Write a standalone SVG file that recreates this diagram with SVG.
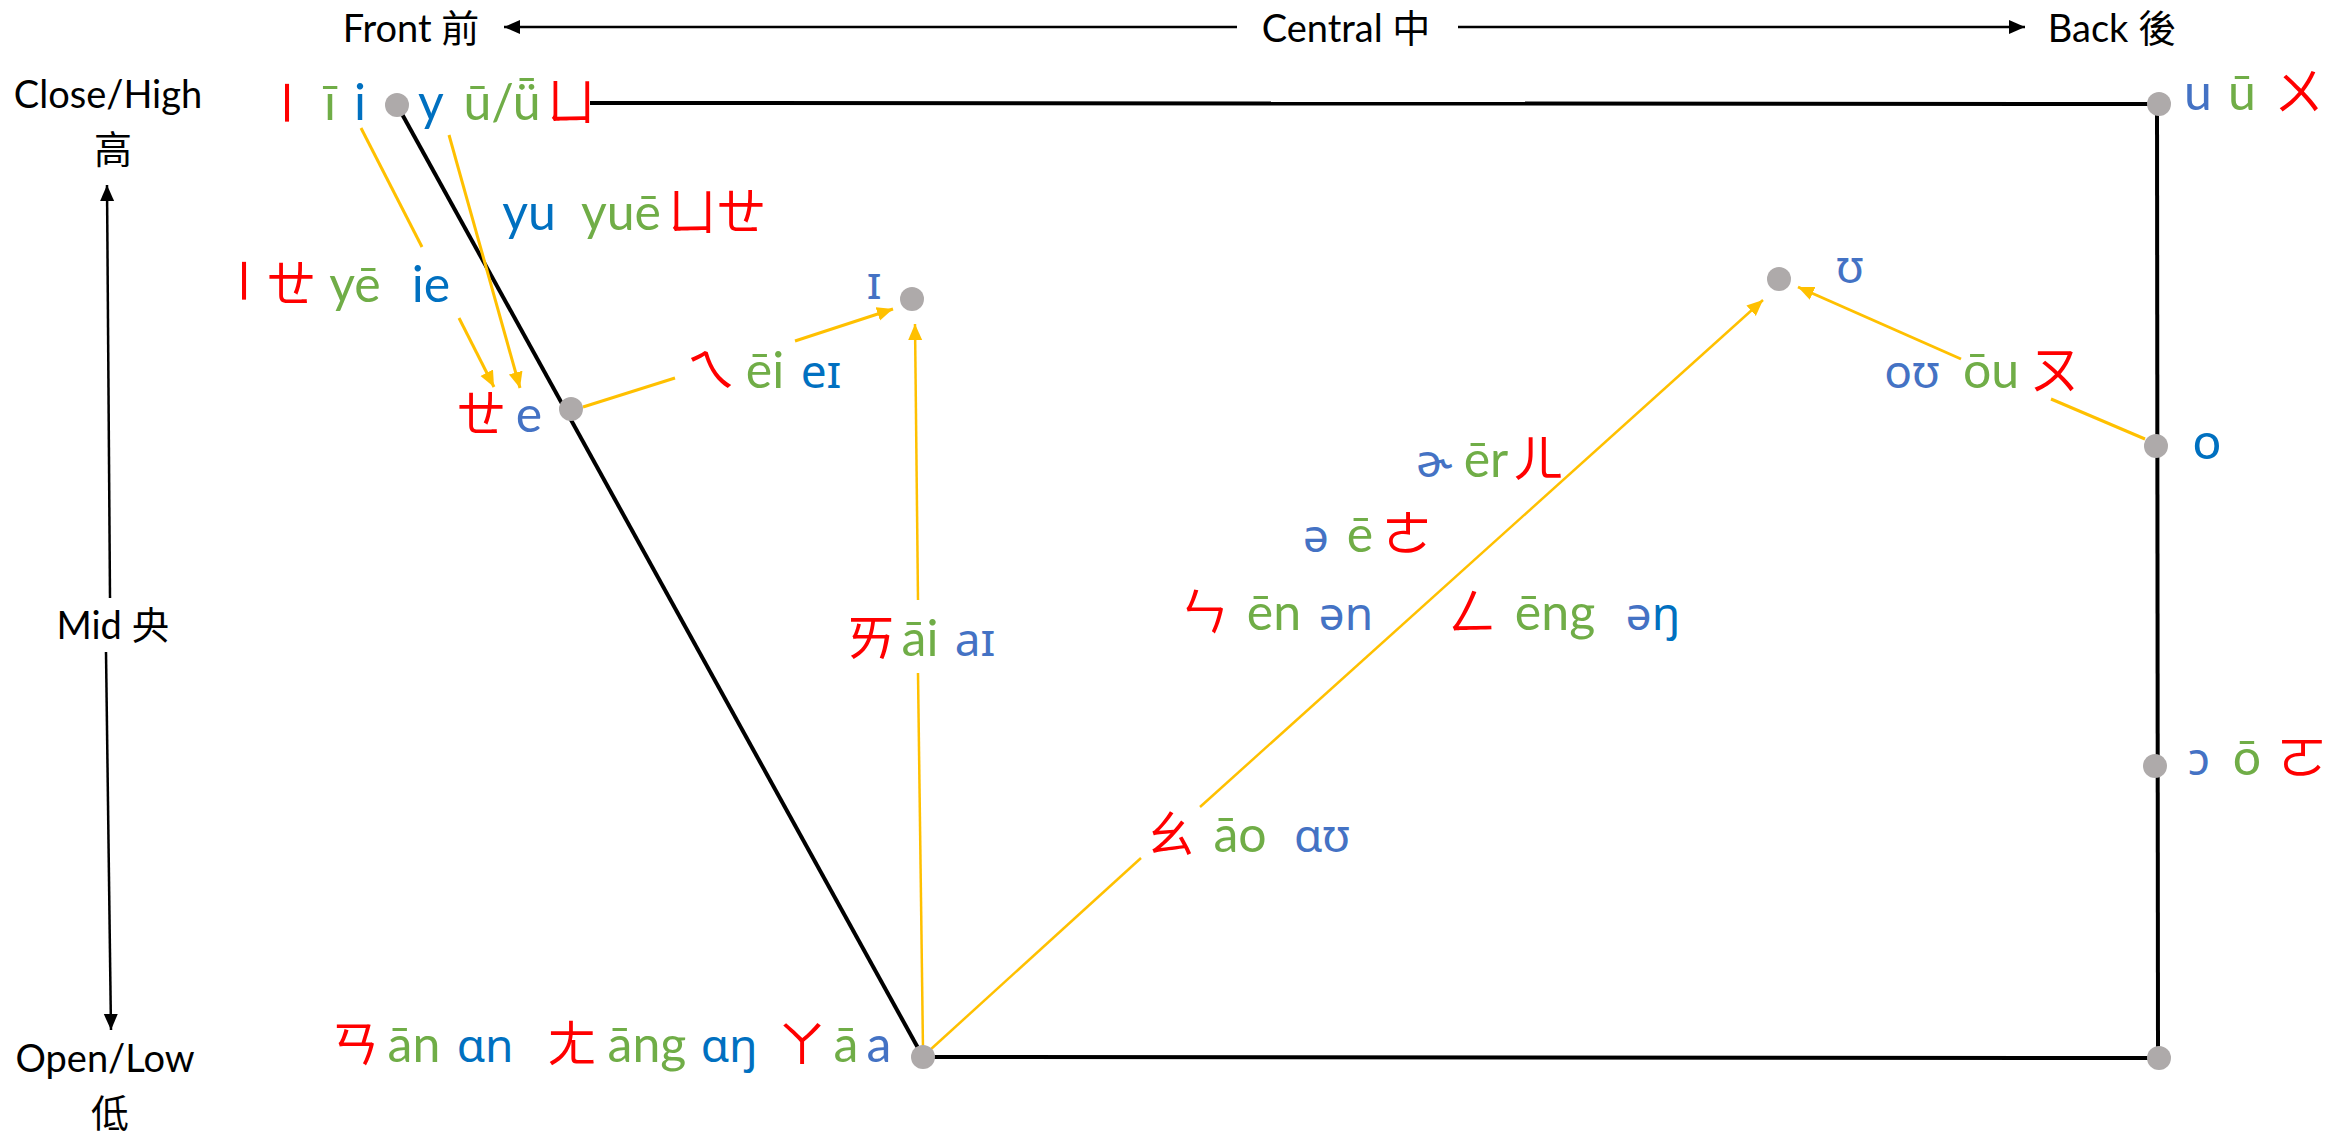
<svg xmlns="http://www.w3.org/2000/svg" width="2343" height="1133" viewBox="0 0 2343 1133">
<style>
text{font-family:Lato,"Noto Sans","Noto Sans CJK TC",sans-serif;text-anchor:middle}
.h{font-size:38px;fill:#000}
.l{font-size:50px}
.p{font-family:"Noto Sans","DejaVu Sans",sans-serif;font-size:46px}
.z{font-family:"Noto Sans CJK TC","Noto Sans CJK SC",sans-serif}
.r{fill:#FF0000}.g{fill:#70AD47}.b{fill:#4472C4}.d{fill:#0070C0}
.dot{fill:#AEAAAA}
.box{stroke:#000;stroke-width:4;fill:none}
.ax{stroke:#000;stroke-width:2.5;fill:none}
.y{stroke:#FFC000;stroke-width:3;fill:none}
</style>
<defs>
<marker id="ya" markerUnits="userSpaceOnUse" markerWidth="18" markerHeight="16" refX="16" refY="7" orient="auto"><path d="M0,0 L16,7 L0,14 z" fill="#FFC000"/></marker>
<marker id="ka" markerUnits="userSpaceOnUse" markerWidth="18" markerHeight="16" refX="16" refY="7" orient="auto"><path d="M0,0 L16,7 L0,14 z" fill="#000"/></marker>
</defs>
<g id="axes">
<text class="h" x="411" y="42">Front 前</text>
<text class="h" x="1346" y="42">Central 中</text>
<text class="h" x="2112" y="42">Back 後</text>
<text class="h" x="108" y="108">Close/High</text>
<text class="h" x="113" y="163">高</text>
<text class="h" x="113" y="639">Mid 央</text>
<text class="h" x="105" y="1072">Open/Low</text>
<text class="h" x="110" y="1127">低</text>
<line class="ax" x1="1237" y1="27" x2="504" y2="27" marker-end="url(#ka)"/>
<line class="ax" x1="1458" y1="27" x2="2025" y2="27" marker-end="url(#ka)"/>
<line class="ax" x1="110" y1="598" x2="107" y2="185" marker-end="url(#ka)"/>
<line class="ax" x1="106" y1="652" x2="111" y2="1030" marker-end="url(#ka)"/>
</g>
<g id="connectors">
<line class="box" x1="590" y1="103" x2="2150" y2="104"/>
<line class="box" x1="397" y1="105" x2="923" y2="1057"/>
<line class="box" x1="2157" y1="104" x2="2158" y2="1058"/>
<line class="box" x1="923" y1="1057" x2="2159" y2="1058"/>
<line class="y" x1="361" y1="128" x2="422" y2="247"/>
<line class="y" x1="459" y1="318" x2="494" y2="387" marker-end="url(#ya)"/>
<line class="y" x1="449" y1="135" x2="520" y2="388" marker-end="url(#ya)"/>
<line class="y" x1="583" y1="407" x2="675" y2="378"/>
<line class="y" x1="795" y1="341" x2="893" y2="309" marker-end="url(#ya)"/>
<line class="y" style="stroke-width:2.5" x1="923" y1="1050" x2="918" y2="673"/>
<line class="y" style="stroke-width:2.5" x1="918" y1="600" x2="915" y2="324" marker-end="url(#ya)"/>
<line class="y" style="stroke-width:2.5" x1="930" y1="1050" x2="1141" y2="858"/>
<line class="y" style="stroke-width:2.5" x1="1200" y1="807" x2="1763" y2="300" marker-end="url(#ya)"/>
<line class="y" x1="2145" y1="439" x2="2051" y2="399"/>
<line class="y" x1="1961" y1="359" x2="1798" y2="287" marker-end="url(#ya)"/>
</g>
<g id="node-i">
<circle class="dot" cx="397" cy="105" r="12"/>
<text class="l r z" lang="zh-TW" x="285" y="120" transform="rotate(90 285 103)">ㄧ</text>
<text class="l g" x="330" y="120">ī</text>
<text class="l d" x="360" y="120">i</text>
<text class="l d" x="431" y="120">y</text>
<text class="l g" x="502" y="120">ū/ǖ</text>
<text class="l r z" lang="zh-TW" x="571" y="120">ㄩ</text>
</g>
<g id="label-yue">
<text class="l d" x="529" y="230">yu</text>
<text class="l g" x="621" y="230">yuē</text>
<text class="l r z" lang="zh-TW" x="692" y="230">ㄩ</text>
<text class="l r z" lang="zh-TW" x="741" y="230">ㄝ</text>
</g>
<g id="label-ie">
<text class="l r z" lang="zh-TW" x="242" y="298" transform="rotate(90 242 281)">ㄧ</text>
<text class="l r z" lang="zh-TW" x="291" y="302">ㄝ</text>
<text class="l g" x="355" y="302">yē</text>
<text class="l d" x="431" y="302">ie</text>
</g>
<g id="node-e">
<circle class="dot" cx="571" cy="409" r="12"/>
<text class="l r z" lang="zh-TW" x="481" y="432">ㄝ</text>
<text class="l b" x="529" y="432">e</text>
</g>
<g id="label-ei">
<text class="l r z" lang="zh-TW" x="711" y="388">ㄟ</text>
<text class="l g" x="765" y="388">ēi</text>
<text class="l p d" x="821" y="388">eɪ</text>
</g>
<g id="node-I">
<circle class="dot" cx="912" cy="299" r="12"/>
<text class="l p b" x="874" y="299">ɪ</text>
</g>
<g id="label-ai">
<text class="l r z" lang="zh-TW" x="871" y="656">ㄞ</text>
<text class="l g" x="920" y="656">āi</text>
<text class="l p b" x="975" y="656">aɪ</text>
</g>
<g id="node-U">
<circle class="dot" cx="1779" cy="279" r="12"/>
<text class="l p b" x="1850" y="283">ʊ</text>
</g>
<g id="label-ou">
<text class="l p b" x="1912" y="388">oʊ</text>
<text class="l g" x="1991" y="388">ōu</text>
<text class="l r z" lang="zh-TW" x="2055" y="388">ㄡ</text>
</g>
<g id="node-u">
<circle class="dot" cx="2159" cy="104" r="12"/>
<text class="l b" x="2198" y="110">u</text>
<text class="l g" x="2242" y="110">ū</text>
<text class="l r z" lang="zh-TW" x="2299" y="110">ㄨ</text>
</g>
<g id="node-o">
<circle class="dot" cx="2156" cy="446" r="12"/>
<text class="l d" x="2207" y="459">o</text>
</g>
<g id="node-open-o">
<circle class="dot" cx="2155" cy="766" r="12"/>
<text class="l p b" x="2199" y="775">ɔ</text>
<text class="l g" x="2247" y="775">ō</text>
<text class="l r z" lang="zh-TW" x="2302" y="775">ㄛ</text>
</g>
<g id="node-back-low">
<circle class="dot" cx="2159" cy="1058" r="12"/>
</g>
<g id="label-er">
<text class="l p b" x="1434" y="477">ɚ</text>
<text class="l g" x="1486" y="477">ēr</text>
<text class="l r z" lang="zh-TW" x="1538" y="477">ㄦ</text>
</g>
<g id="label-schwa">
<text class="l p b" x="1316" y="552">ə</text>
<text class="l g" x="1360" y="552">ē</text>
<text class="l r z" lang="zh-TW" x="1407" y="552">ㄜ</text>
</g>
<g id="label-en">
<text class="l r z" lang="zh-TW" x="1204" y="630">ㄣ</text>
<text class="l g" x="1274" y="630">ēn</text>
<text class="l p b" x="1346" y="630">ən</text>
</g>
<g id="label-eng">
<text class="l r z" lang="zh-TW" x="1472" y="630">ㄥ</text>
<text class="l g" x="1555" y="630">ēng</text>
<text class="l p" x="1653" y="630"><tspan class="b">ə</tspan><tspan class="d">ŋ</tspan></text>
</g>
<g id="label-ao">
<text class="l r z" lang="zh-TW" x="1170" y="852">ㄠ</text>
<text class="l g" x="1240" y="852">āo</text>
<text class="l p b" x="1322" y="852">ɑʊ</text>
</g>
<g id="node-a">
<circle class="dot" cx="923" cy="1057" r="12"/>
<text class="l r z" lang="zh-TW" x="355" y="1062">ㄢ</text>
<text class="l g" x="414" y="1062">ān</text>
<text class="l p d" x="485" y="1062">ɑn</text>
<text class="l r z" lang="zh-TW" x="572" y="1062">ㄤ</text>
<text class="l g" x="647" y="1062">āng</text>
<text class="l p d" x="729" y="1062">ɑŋ</text>
<text class="l r z" lang="zh-TW" x="802" y="1062">ㄚ</text>
<text class="l g" x="846" y="1062">ā</text>
<text class="l b" x="879" y="1062">a</text>
</g>
</svg>
